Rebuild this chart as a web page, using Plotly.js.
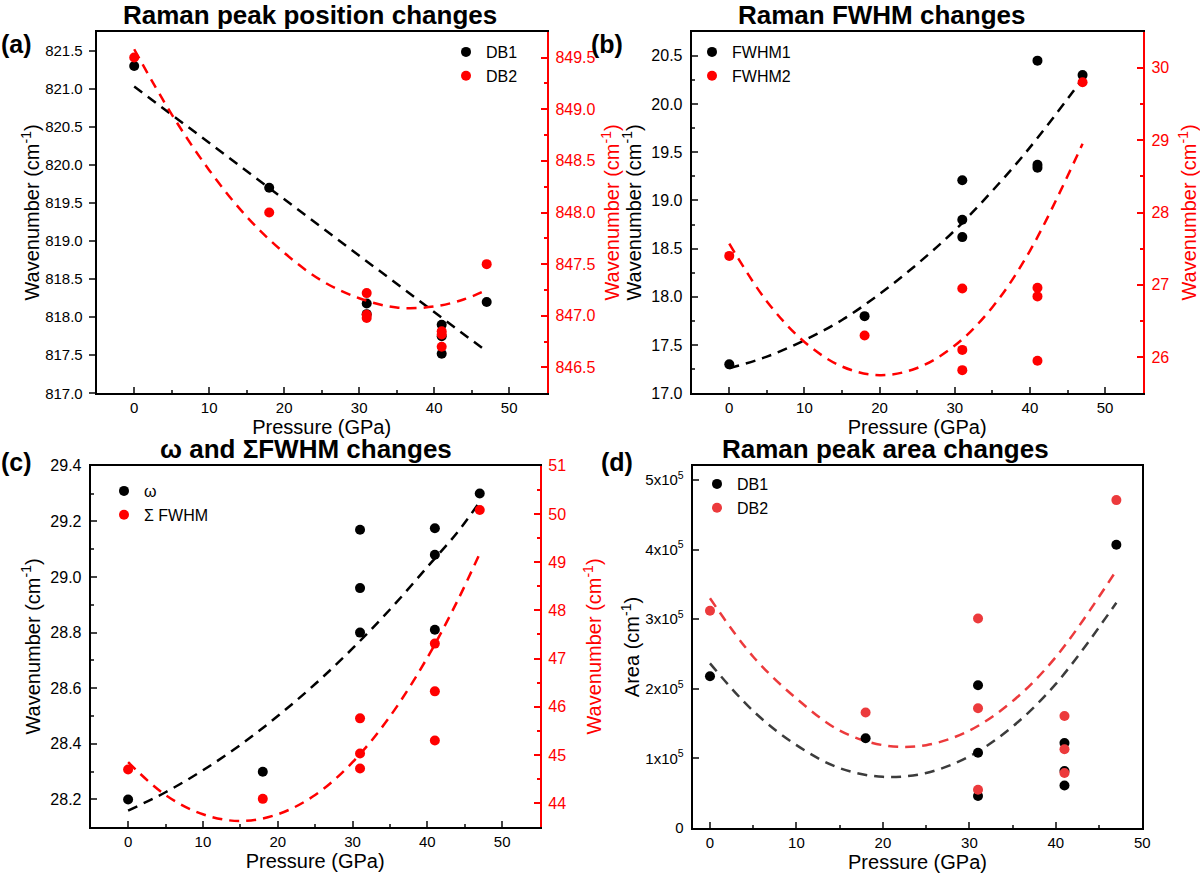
<!DOCTYPE html>
<html>
<head>
<meta charset="utf-8">
<script src="https://cdn.plot.ly/plotly-3.0.1.min.js"></script>
<style>
  html, body { margin: 0; padding: 0; background: #fff; }
  #chart { width: 1200px; height: 874px; }
</style>
</head>
<body>
<div id="chart"></div>
<script>
// (a) peak position
const aP1 = [0, 18, 31, 31, 41, 41, 41, 47];
const aDB1 = [821.3, 819.7, 818.18, 818.04, 817.9, 817.75, 817.52, 818.2];
const aP2 = [0, 18, 31, 31, 31, 41, 41, 41, 47];
const aDB2 = [849.5, 848.0, 847.22, 847.01, 846.98, 846.85, 846.82, 846.7, 847.5];
const aFit1X = [0, 47];
const aFit1 = [821.03, 817.55];
const aFit2X = [0, 5, 10, 15, 20, 25, 30, 35, 40, 44, 47];
const aFit2 = [849.58, 848.95, 848.41, 847.96, 847.61, 847.34, 847.17, 847.08, 847.09, 847.16, 847.25];

// (b) FWHM
const bP = [0, 18, 31, 31, 31, 41, 41, 41, 47];
const bFWHM1 = [17.3, 17.8, 19.21, 18.8, 18.62, 20.45, 19.37, 19.34, 20.3];
const bFWHM2 = [27.4, 26.3, 26.95, 26.1, 25.82, 26.96, 26.84, 25.95, 29.8];
const bFitX = [0, 5, 10, 15, 20, 25, 30, 35, 40, 47];
const bFit1 = [17.26, 17.38, 17.55, 17.76, 18.03, 18.34, 18.69, 19.10, 19.55, 20.26];
const bFit2 = [27.57, 26.77, 26.21, 25.87, 25.75, 25.85, 26.16, 26.69, 27.47, 28.95];

// (c) omega and sum FWHM
const cP = [0, 18, 31, 31, 31, 41, 41, 41, 47];
const cOmega = [28.2, 28.3, 29.17, 28.96, 28.8, 29.175, 29.08, 28.81, 29.3];
const cSum = [44.7, 44.09, 45.76, 45.03, 44.72, 47.31, 46.32, 45.3, 50.08];
const cFitX = [0, 5, 10, 15, 20, 25, 30, 35, 40, 44, 47];
const cFit1 = [28.16, 28.226, 28.305, 28.396, 28.50, 28.615, 28.743, 28.883, 29.036, 29.16, 29.27];
const cFit2 = [44.85, 44.17, 43.77, 43.63, 43.77, 44.17, 44.85, 45.80, 47.02, 48.19, 49.18];

// (d) peak area
const dP = [0, 18, 31, 31, 31, 41, 41, 41, 47];
const dDB1 = [2.18e5, 1.29e5, 2.05e5, 1.08e5, 0.46e5, 1.22e5, 0.82e5, 0.61e5, 4.07e5];
const dDB2 = [3.12e5, 1.66e5, 3.01e5, 1.72e5, 0.55e5, 1.61e5, 1.13e5, 0.79e5, 4.71e5];
const dFitX = [0, 5, 10, 15, 20, 25, 30, 35, 40, 47];
const dFit1 = [2.365e5, 1.68e5, 1.19e5, 0.86e5, 0.735e5, 0.79e5, 1.03e5, 1.457e5, 2.07e5, 3.236e5];
const dFit2 = [3.30e5, 2.46e5, 1.86e5, 1.40e5, 1.19e5, 1.19e5, 1.40e5, 1.823e5, 2.456e5, 3.70e5];
const dTicks = [0, 1e5, 2e5, 3e5, 4e5, 5e5];
const dTickText = ['0', '1x10<sup>5</sup>', '2x10<sup>5</sup>', '3x10<sup>5</sup>', '4x10<sup>5</sup>', '5x10<sup>5</sup>'];

const FONT = 'Liberation Sans, Arial, sans-serif';
const RED = '#ff0000', RED_D = '#ec3a3c', GREY = '#3c3c3c';
const W = 1200, H = 874;
const px = x => x / W, py = y => 1 - y / H;

const dots = (x, y, color, name, xa, ya, lg) => ({
  type: 'scatter', mode: 'markers', x, y, name, xaxis: xa, yaxis: ya, legend: lg,
  marker: {color, size: 10}
});
const fit = (x, y, color, xa, ya) => ({
  type: 'scatter', mode: 'lines', x, y, xaxis: xa, yaxis: ya, showlegend: false,
  line: {color, width: 2.5, dash: '10px,7px', shape: 'spline'}
});

const traces = [
  fit(aFit1X, aFit1, '#000', 'x', 'y'),
  fit(aFit2X, aFit2, RED, 'x', 'y2'),
  dots(aP1, aDB1, '#000', 'DB1', 'x', 'y', 'legend'),
  dots(aP2, aDB2, RED, 'DB2', 'x', 'y2', 'legend'),

  fit(bFitX, bFit1, '#000', 'x2', 'y3'),
  fit(bFitX, bFit2, RED, 'x2', 'y4'),
  dots(bP, bFWHM1, '#000', 'FWHM1', 'x2', 'y3', 'legend2'),
  dots(bP, bFWHM2, RED, 'FWHM2', 'x2', 'y4', 'legend2'),

  fit(cFitX, cFit1, '#000', 'x3', 'y5'),
  fit(cFitX, cFit2, RED, 'x3', 'y6'),
  dots(cP, cOmega, '#000', 'ω', 'x3', 'y5', 'legend3'),
  dots(cP, cSum, RED, 'Σ FWHM', 'x3', 'y6', 'legend3'),

  fit(dFitX, dFit1, GREY, 'x4', 'y7'),
  fit(dFitX, dFit2, RED_D, 'x4', 'y7'),
  dots(dP, dDB1, '#000', 'DB1', 'x4', 'y7', 'legend4'),
  dots(dP, dDB2, RED_D, 'DB2', 'x4', 'y7', 'legend4')
];

const xax = (dom, anchor, range) => ({
  domain: dom, anchor, range, tick0: 0, dtick: 10, ticks: 'inside', ticklen: 6, tickwidth: 2,
  minor: {dtick: 5, ticks: 'inside', ticklen: 3, tickwidth: 2},
  showline: true, linewidth: 2, linecolor: '#000', mirror: true, showgrid: false, zeroline: false,
  tickfont: {size: 15, color: '#000'},
  title: {text: 'Pressure (GPa)', font: {size: 20, color: '#000'}, standoff: 1}
});
const yax = (dom, anchor, range, dtick, o) => Object.assign({
  domain: dom, anchor, range, dtick, ticks: 'inside', ticklen: 6, tickwidth: 2,
  showline: true, linewidth: 2, linecolor: '#000', showgrid: false, zeroline: false,
  tickfont: {size: 16, color: '#000'}, ticklabelstandoff: 4,
  title: {text: 'Wavenumber (cm<sup>-1</sup>)', font: {size: 20, color: '#000'}}
}, o);
const yRight = (over, anchor, range, dtick, minor, o) => Object.assign({
  overlaying: over, side: 'right', anchor, range, dtick, ticks: 'inside', ticklen: 6, tickwidth: 2,
  tickcolor: RED, minor: {dtick: minor, ticks: 'inside', ticklen: 3, tickwidth: 2, tickcolor: RED},
  showline: true, linewidth: 2.5, linecolor: RED, showgrid: false, zeroline: false,
  tickfont: {size: 16, color: RED}, ticklabelstandoff: 3,
  title: {text: 'Wavenumber (cm<sup>-1</sup>)', font: {size: 20, color: RED}}
}, o);

const topRow = [py(393.3), py(31.7)];
const botRow = [py(828), py(466)];

const title = (t, x, y) => ({text: t, x: px(x), y: py(y), xref: 'paper', yref: 'paper',
  xanchor: 'center', yanchor: 'middle', showarrow: false,
  font: {family: FONT, size: 26, weight: 'bold', color: '#000'}});
const label = (t, x, y) => ({text: t, x: px(x), y: py(y), xref: 'paper', yref: 'paper',
  xanchor: 'left', yanchor: 'middle', showarrow: false,
  font: {family: FONT, size: 25, weight: 'bold', color: '#000'}});
const leg = (x, y) => ({x: px(x), y: py(y), xanchor: 'left', yanchor: 'top', bgcolor: 'rgba(0,0,0,0)',
  tracegroupgap: 0, font: {size: 16, color: '#000'}});

const layout = {
  width: W, height: H, margin: {l: 0, r: 0, t: 0, b: 0},
  paper_bgcolor: '#fff', plot_bgcolor: '#fff',
  font: {family: FONT, color: '#000'},
  xaxis: xax([px(96.7), px(546.7)], 'y', [-5, 55]),
  yaxis: yax(topRow, 'x', [817, 821.75], 0.5, {ticks: 'outside', tickformat: '.1f',
    tickfont: {size: 15, color: '#000'}, ticklabelstandoff: 3}),
  yaxis2: yRight('y', 'x', [846.25, 849.75], 0.5, 0.25, {tickformat: '.1f'}),

  xaxis2: xax([px(691.7), px(1142.7)], 'y3', [-5, 55]),
  yaxis3: yax(topRow, 'x2', [17, 20.75], 0.5, {tickformat: '.1f',
    minor: {dtick: 0.25, ticks: 'inside', ticklen: 3, tickwidth: 2}}),
  yaxis4: yRight('y3', 'x2', [25.5, 30.5], 1, 0.5, {}),

  xaxis3: xax([px(90.7), px(539.6)], 'y5', [-5, 55]),
  yaxis5: yax([py(827.3), py(465.7)], 'x3', [28.1, 29.4], 0.2, {tick0: 28.2, tickformat: '.1f',
    minor: {dtick: 0.1, ticks: 'inside', ticklen: 3, tickwidth: 2}}),
  yaxis6: yRight('y5', 'x3', [43.5, 51], 1, 0.5, {}),

  xaxis4: xax([px(692.7), px(1142.3)], 'y7', [-2, 50]),
  yaxis7: yax(botRow, 'x4', [0, 5.2e5], 1e5, {mirror: true, tickvals: dTicks, ticktext: dTickText,
    tickfont: {size: 15, color: '#000'},
    title: {text: 'Area (cm<sup>-1</sup>)', font: {size: 20, color: '#000'}}}),

  legend: leg(446, 35),
  legend2: leg(692, 35),
  legend3: leg(104, 474),
  legend4: leg(697, 467),

  annotations: [
    title('Raman peak position changes', 310, 15),
    title('Raman FWHM changes', 882, 15),
    title('ω and ΣFWHM changes', 306, 449),
    title('Raman peak area changes', 885, 449),
    label('(a)', -1, 44),
    label('(b)', 589, 44),
    label('(c)', -1, 462),
    label('(d)', 599, 462)
  ]
};

Plotly.newPlot('chart', traces, layout, {displayModeBar: false, staticPlot: true});
</script>
</body>
</html>
